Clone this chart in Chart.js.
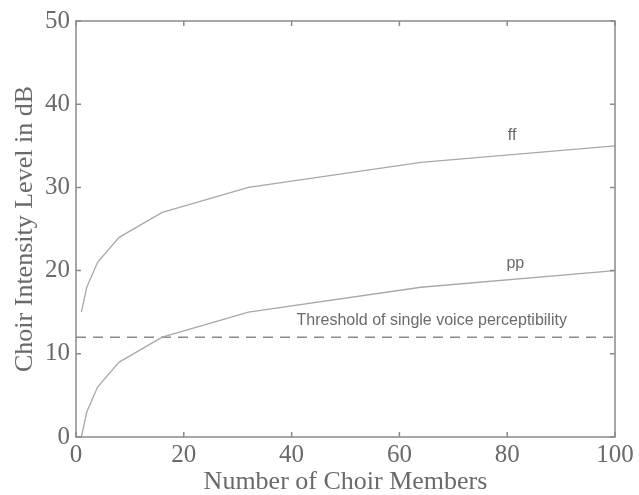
<!DOCTYPE html>
<html>
<head>
<meta charset="utf-8">
<script src="https://cdn.jsdelivr.net/npm/chart.js@4/dist/chart.umd.min.js"></script>
<style>
html,body{margin:0;padding:0;background:#fff;}
#wrap{width:639px;height:495px;}
</style>
</head>
<body>
<div id="wrap"><canvas id="c" width="639" height="495"></canvas></div>
<script>
const members = [1, 2, 4, 8, 16, 32, 64, 100];
const ffLevels = [15, 18, 21, 24, 27, 30, 33, 35];
const ppLevels = [0, 3, 6, 9, 12, 15, 18, 20];
const thresholdX = [0, 100];
const thresholdLevel = [12, 12];
const xTicks = [0, 20, 40, 60, 80, 100];
const yTicks = [0, 10, 20, 30, 40, 50];

const annotations = [
  {text: 'ff', x: 80.9, y: 36.2},
  {text: 'pp', x: 81.5, y: 20.8},
  {text: 'Threshold of single voice perceptibility', x: 66, y: 14.0}
];

const toPts = (xs, ys) => xs.map((x, i) => ({x, y: ys[i]}));
const serif = '"Liberation Serif", "Times New Roman", serif';

const boxPlugin = {
  id: 'box',
  afterDatasetsDraw(chart) {
    const {ctx, chartArea: a, scales} = chart;
    ctx.save();
    ctx.strokeStyle = '#8a8a8a';
    ctx.lineWidth = 1.5;
    ctx.strokeRect(a.left, a.top, a.right - a.left, a.bottom - a.top);
    const L = 5;
    ctx.beginPath();
    xTicks.forEach(v => {
      const px = scales.x.getPixelForValue(v);
      ctx.moveTo(px, a.bottom); ctx.lineTo(px, a.bottom - L);
      ctx.moveTo(px, a.top); ctx.lineTo(px, a.top + L);
    });
    yTicks.forEach(v => {
      const py = scales.y.getPixelForValue(v);
      ctx.moveTo(a.left, py); ctx.lineTo(a.left + L, py);
      ctx.moveTo(a.right, py); ctx.lineTo(a.right - L, py);
    });
    ctx.stroke();
    ctx.fillStyle = '#6a6a6a';
    ctx.font = '16px "Liberation Sans", Arial, sans-serif';
    ctx.textAlign = 'center';
    ctx.textBaseline = 'middle';
    annotations.forEach(an => {
      ctx.fillText(an.text, scales.x.getPixelForValue(an.x), scales.y.getPixelForValue(an.y));
    });
    ctx.restore();
  }
};

new Chart(document.getElementById('c'), {
  type: 'scatter',
  data: {
    datasets: [
      {label: 'ff', data: toPts(members, ffLevels), showLine: true, borderColor: '#a8a8a8', borderWidth: 1.3, pointRadius: 0, tension: 0},
      {label: 'pp', data: toPts(members, ppLevels), showLine: true, borderColor: '#a8a8a8', borderWidth: 1.3, pointRadius: 0, tension: 0},
      {label: 'threshold', data: toPts(thresholdX, thresholdLevel), showLine: true, borderColor: '#8a8a8a', borderWidth: 1.5, borderDash: [10, 7], pointRadius: 0}
    ]
  },
  options: {
    responsive: false,
    animation: false,
    devicePixelRatio: 1,
    layout: {padding: {left: 0, right: 24, top: 20, bottom: 0}},
    plugins: {legend: {display: false}, tooltip: {enabled: false}},
    scales: {
      x: {
        type: 'linear', min: 0, max: 100,
        afterFit(s) { s.height = 58; },
        afterBuildTicks(s) { s.ticks = xTicks.map(v => ({value: v})); },
        grid: {display: false, drawTicks: false},
        border: {display: false},
        ticks: {color: '#6a6a6a', padding: 3, font: {family: serif, size: 25}, maxRotation: 0},
        title: {display: true, text: 'Number of Choir Members', color: '#6a6a6a', padding: {top: 0, bottom: 0}, font: {family: serif, size: 26, lineHeight: 1}}
      },
      y: {
        type: 'linear', min: 0, max: 50,
        afterFit(s) { s.width = 76; },
        afterBuildTicks(s) { s.ticks = yTicks.map(v => ({value: v})); },
        grid: {display: false, drawTicks: false},
        border: {display: false},
        ticks: {color: '#6a6a6a', padding: 6, font: {family: serif, size: 25}},
        title: {display: true, text: 'Choir Intensity Level in dB', color: '#6a6a6a', padding: {top: 12, bottom: 0}, font: {family: serif, size: 26, lineHeight: 1}}
      }
    }
  },
  plugins: [boxPlugin]
});
</script>
</body>
</html>
